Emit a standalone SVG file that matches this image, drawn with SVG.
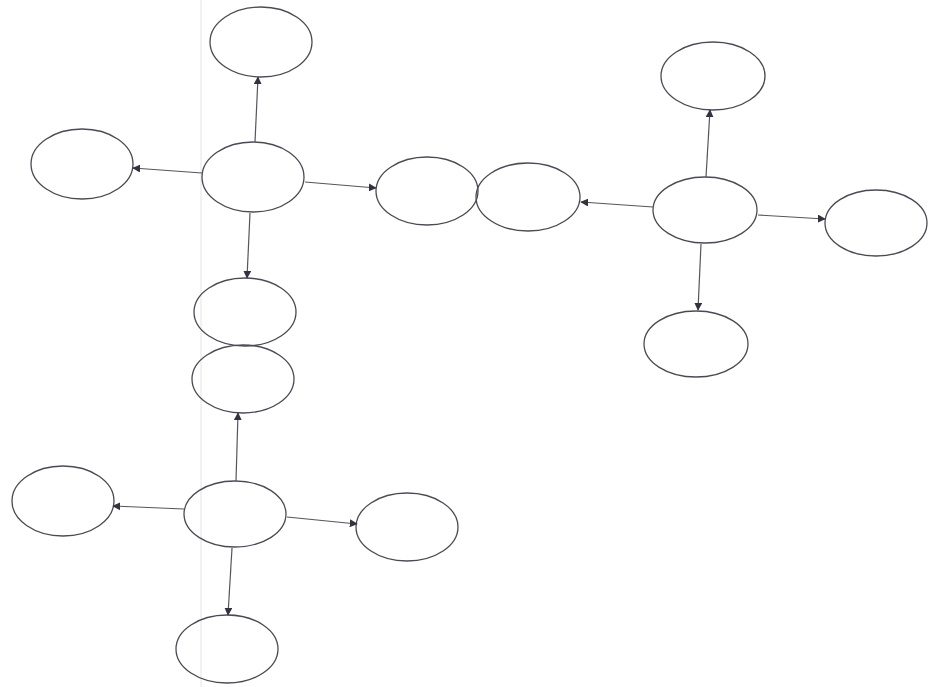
<svg xmlns="http://www.w3.org/2000/svg" width="928" height="687" viewBox="0 0 928 687">
<style>
.n{fill:none;stroke:#4a4a55;stroke-width:1.3}
.c{stroke:#55555f;stroke-width:1.2;fill:none;marker-end:url(#ah)}
</style>
<defs>
<marker id="ah" viewBox="0 0 10 10" refX="9" refY="5" markerWidth="8" markerHeight="8" markerUnits="userSpaceOnUse" orient="auto">
<path d="M0,0 L10,5 L0,10 z" fill="#333340"/>
</marker>
</defs>
<rect width="928" height="687" fill="#ffffff"/>
<line x1="201" y1="0" x2="201" y2="687" stroke="#e4e4ea" stroke-width="1"/>
<g id="a_top"><ellipse class="n" cx="261" cy="42" rx="51" ry="35"/></g>
<g id="a_left"><ellipse class="n" cx="82" cy="164" rx="51" ry="35"/></g>
<g id="a_center"><ellipse class="n" cx="253" cy="177" rx="51" ry="35"/></g>
<g id="a_right"><ellipse class="n" cx="427" cy="191" rx="51" ry="34"/></g>
<g id="a_bottom"><ellipse class="n" cx="245" cy="312" rx="51" ry="34"/></g>
<g id="b_top"><ellipse class="n" cx="713" cy="76" rx="52" ry="34"/></g>
<g id="b_left"><ellipse class="n" cx="528" cy="197" rx="52" ry="34"/></g>
<g id="b_center"><ellipse class="n" cx="705" cy="210" rx="52" ry="33"/></g>
<g id="b_right"><ellipse class="n" cx="876" cy="223" rx="51" ry="33"/></g>
<g id="b_bottom"><ellipse class="n" cx="696" cy="344" rx="52" ry="33"/></g>
<g id="c_top"><ellipse class="n" cx="243" cy="379" rx="51" ry="34"/></g>
<g id="c_left"><ellipse class="n" cx="63" cy="501" rx="51" ry="35"/></g>
<g id="c_center"><ellipse class="n" cx="235" cy="514" rx="51" ry="33"/></g>
<g id="c_right"><ellipse class="n" cx="407" cy="527" rx="51" ry="34"/></g>
<g id="c_bottom"><ellipse class="n" cx="227" cy="649" rx="51" ry="34"/></g>
<g id="connectors">
<line class="c" x1="255" y1="142" x2="258" y2="77"/>
<line class="c" x1="202" y1="173" x2="133" y2="168"/>
<line class="c" x1="305" y1="182" x2="376" y2="188"/>
<line class="c" x1="250" y1="213" x2="247" y2="278"/>
<line class="c" x1="706" y1="177" x2="710" y2="110"/>
<line class="c" x1="653" y1="207" x2="581" y2="202"/>
<line class="c" x1="758" y1="215" x2="825" y2="219"/>
<line class="c" x1="701" y1="244" x2="698" y2="310"/>
<line class="c" x1="236" y1="481" x2="238" y2="413"/>
<line class="c" x1="184" y1="509" x2="113" y2="506"/>
<line class="c" x1="287" y1="517" x2="357" y2="524"/>
<line class="c" x1="232" y1="548" x2="228" y2="615"/>
</g>
</svg>
